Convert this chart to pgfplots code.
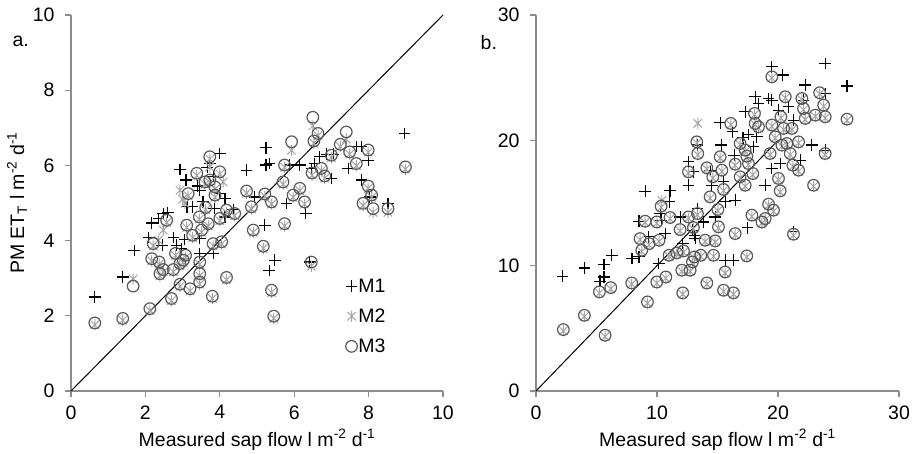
\documentclass[border=0pt]{standalone}
\usepackage{pgfplots}
\pgfplotsset{compat=1.18}
\usepackage{fontspec}
\setmainfont{Liberation Sans}
\definecolor{axgray}{HTML}{8C8C8C}
\definecolor{mtwo}{HTML}{A6A6A6}
\definecolor{mthree}{HTML}{595959}
\pgfdeclareplotmark{xstar}{%
  \pgfpathmoveto{\pgfqpoint{0pt}{\pgfplotmarksize}}%
  \pgfpathlineto{\pgfqpoint{0pt}{-\pgfplotmarksize}}%
  \pgfpathmoveto{\pgfqpoint{-0.75\pgfplotmarksize}{0.75\pgfplotmarksize}}%
  \pgfpathlineto{\pgfqpoint{0.75\pgfplotmarksize}{-0.75\pgfplotmarksize}}%
  \pgfpathmoveto{\pgfqpoint{-0.75\pgfplotmarksize}{-0.75\pgfplotmarksize}}%
  \pgfpathlineto{\pgfqpoint{0.75\pgfplotmarksize}{0.75\pgfplotmarksize}}%
  \pgfusepathqstroke}
\newcommand{\fs}{\fontsize{19.5}{21}\selectfont}
\pgfplotsset{
  panel/.style={
    scale only axis,
    height=376pt,
    axis lines*=left,
    axis line style={axgray, line width=1.8pt},
    tick style={axgray, line width=1.2pt},
    major tick length=6pt,
    tick align=outside,
    clip=false,
    /pgf/number format/assume math mode=true,
    tick label style={font=\fs, black},
    label style={font=\fs},
    xlabel={Measured sap flow l m\textsuperscript{-2} d\textsuperscript{-1}},
    xlabel style={at={(axis description cs:0.5,0)}, anchor=center, yshift=-49pt},
    xticklabel style={yshift=-5pt},
    yticklabel style={xshift=-7pt},
  },
  m1/.style={only marks, mark=+, mark size=5.8pt, black, line width=1.2pt},
  m2/.style={only marks, mark=xstar, mark size=5.6pt, mtwo, line width=1pt},
  m3/.style={only marks, mark=o, mark size=5.8pt, mthree, line width=1.2pt},
}
\begin{document}
\begin{tikzpicture}
\path[use as bounding box] (0,0) rectangle (914pt,453pt);
\begin{axis}[panel,
  at={(71pt,62pt)}, anchor=south west,
  width=372pt,
  xmin=0, xmax=10, ymin=0, ymax=10,
  xtick={0,2,...,10}, ytick={0,2,...,10},
  ylabel={PM ET\textsubscript{T} l m\textsuperscript{-2} d\textsuperscript{-1}},
  ylabel style={at={(axis description cs:-0.145,0.5)}, anchor=center},
  legend style={at={(axis description cs:0.73,0.307)}, anchor=north west, draw=none, fill=none,
    font=\fs, row sep=13pt, nodes={inner sep=1pt}},
  legend cell align=left,
  legend image code/.code={\draw[mark repeat=2,mark phase=2,#1] plot coordinates {(0pt,0pt) (6pt,0pt) (12pt,0pt)};},
]
\addplot[m1] coordinates {
(0.64,2.50) (1.39,3.03) (1.70,3.74) (2.09,4.08) (2.17,4.47) (2.35,4.59) (2.48,4.72)
(2.45,3.88) (2.75,4.08) (2.84,3.88) (2.97,3.79) (2.93,5.89) (3.09,5.61) (3.12,4.90)
(3.27,4.90) (3.06,4.03) (3.46,4.06) (3.46,5.34) (3.55,5.03) (3.46,3.66) (3.82,3.66)
(3.82,5.70) (3.73,6.05) (4.00,6.32) (4.00,5.25) (4.14,5.12) (4.14,4.63) (4.36,4.83)
(4.72,5.87) (4.94,5.16) (5.24,6.47) (5.24,6.01) (5.34,6.05) (5.21,4.41) (5.33,3.21)
(5.48,3.48) (5.79,4.99) (5.88,6.01) (6.15,6.01) (6.31,4.72) (6.46,5.92) (6.55,6.05)
(6.42,3.43) (6.69,6.23) (6.87,6.30) (7.05,6.30) (7.00,5.65) (7.45,5.92) (7.67,6.50)
(7.81,6.50) (7.81,5.61) (7.99,6.14) (8.03,5.16) (8.52,4.99) (8.97,6.85)
(3.66,5.95) (3.40,5.45) (2.60,4.75) (3.85,4.85)
};
\addlegendentry{M1}
\addplot[m2] coordinates {
(0.64,1.76) (1.39,1.88) (1.67,2.98) (2.12,2.14) (2.17,3.46) (2.37,3.37) (2.21,3.86)
(2.39,3.06) (2.48,3.17) (2.57,4.48) (2.70,2.40) (2.75,3.17) (2.81,3.60) (2.93,3.33)
(2.93,2.78) (3.02,3.42) (3.08,3.55) (3.11,4.35) (3.15,5.19) (3.20,2.66) (3.27,4.08)
(3.38,5.73) (3.45,4.57) (3.46,3.37) (3.46,3.06) (3.46,2.84) (3.51,4.22) (3.60,5.50)
(3.62,4.82) (3.69,4.39) (3.73,5.55) (3.73,6.17) (3.80,2.46) (3.82,3.86) (3.87,5.37)
(3.87,5.15) (4.00,5.77) (4.00,4.53) (4.05,3.91) (4.18,4.75) (4.18,2.96) (4.40,4.66)
(4.72,5.26) (4.85,4.84) (4.90,4.22) (5.17,3.79) (5.21,5.18) (5.39,4.97) (5.39,2.62)
(5.45,1.93) (5.70,5.50) (5.74,4.39) (5.74,5.95) (5.93,6.40) (5.97,5.15) (6.15,5.33)
(6.28,4.97) (6.46,3.32) (6.48,5.74) (6.50,7.05) (6.53,6.59) (6.64,6.79) (6.73,5.86)
(6.82,5.66) (7.00,6.21) (7.24,6.50) (7.40,6.70) (7.49,6.30) (7.67,5.99) (7.85,4.93)
(7.99,6.35) (7.99,5.39) (8.08,5.15) (8.12,4.75) (8.52,4.75) (8.99,5.90)
(2.93,5.34) (3.06,4.99) (3.73,5.96) (2.48,4.28) (2.35,4.01) (4.09,5.56) (3.0,5.10)
};
\addlegendentry{M2}
\addplot[m3] coordinates {
(0.64,1.81) (1.39,1.93) (1.67,2.79) (2.12,2.19) (2.17,3.52) (2.37,3.43) (2.21,3.92)
(2.39,3.12) (2.48,3.23) (2.57,4.54) (2.70,2.46) (2.75,3.23) (2.81,3.66) (2.93,3.39)
(2.93,2.84) (3.02,3.48) (3.08,3.61) (3.11,4.41) (3.15,5.25) (3.20,2.72) (3.27,4.14)
(3.38,5.79) (3.45,4.63) (3.46,3.43) (3.46,3.12) (3.46,2.90) (3.51,4.28) (3.60,5.56)
(3.62,4.88) (3.69,4.45) (3.73,5.61) (3.73,6.23) (3.80,2.52) (3.82,3.92) (3.87,5.43)
(3.87,5.21) (4.00,5.83) (4.00,4.59) (4.05,3.97) (4.18,4.81) (4.18,3.02) (4.40,4.72)
(4.72,5.32) (4.85,4.90) (4.90,4.28) (5.17,3.85) (5.21,5.24) (5.39,5.03) (5.39,2.68)
(5.45,1.99) (5.70,5.56) (5.74,4.45) (5.74,6.01) (5.93,6.63) (5.97,5.21) (6.15,5.39)
(6.28,5.03) (6.46,3.43) (6.48,5.80) (6.50,7.28) (6.53,6.65) (6.64,6.85) (6.73,5.92)
(6.82,5.72) (7.00,6.27) (7.24,6.56) (7.40,6.89) (7.49,6.36) (7.67,6.05) (7.85,4.99)
(7.99,6.41) (7.99,5.45) (8.08,5.21) (8.12,4.85) (8.52,4.85) (8.99,5.96)
};
\addlegendentry{M3}
\addplot[black, line width=1pt, mark=none, forget plot] coordinates {(0,0) (10,10)};
\node[font=\fs, anchor=center] at (axis description cs:-0.135,0.93) {a.};
\end{axis}
\begin{axis}[panel,
  at={(536pt,62pt)}, anchor=south west,
  width=363pt,
  xmin=0, xmax=30, ymin=0, ymax=30,
  xtick={0,10,20,30}, ytick={0,10,20,30},
]
\addplot[m1] coordinates {
(2.18,9.16) (4.00,9.82) (5.29,8.76) (5.62,10.09) (5.62,9.10) (6.26,10.83) (7.94,10.57)
(8.52,13.55) (9.02,15.94) (9.29,12.30) (8.52,10.70) (10.15,10.17) (10.26,14.16)
(10.34,13.63) (10.67,12.56) (11.08,15.97) (11.00,15.09) (11.91,13.89) (12.13,11.77)
(12.60,16.42) (12.60,18.29) (13.01,17.49) (12.93,12.83) (13.15,12.16) (13.34,19.62)
(13.34,14.56) (13.84,13.49) (14.53,16.42) (14.81,13.89) (15.22,21.40) (15.30,19.62)
(15.50,16.69) (15.63,15.09) (15.63,10.43) (16.24,20.68) (16.32,10.43) (16.46,15.22)
(16.38,18.82) (17.29,22.28) (17.48,13.02) (17.56,20.47) (18.11,23.48) (18.39,22.94)
(18.25,20.28) (18.94,16.42) (19.22,23.34) (19.49,23.21) (19.49,25.87) (19.49,17.75)
(20.18,18.15) (20.04,22.41) (20.40,25.21) (20.87,22.68) (21.28,21.61) (21.28,12.70)
(21.84,18.42) (22.25,24.41) (22.80,19.62) (23.90,26.14) (23.90,23.74) (23.90,19.22)
(25.70,24.33) (22.11,23.21) (17.98,19.48) (13.10,12.40) (17.10,20.20) (14.40,17.60)
};
\addplot[m2] coordinates {
(2.26,4.80) (4.00,5.94) (5.24,7.81) (5.71,4.35) (6.18,8.15) (7.91,8.52) (8.60,12.06)
(8.74,11.13) (9.02,13.45) (9.21,7.01) (9.35,11.66) (9.98,8.60) (9.98,13.39) (10.17,11.93)
(10.34,14.65) (10.73,9.00) (11.00,10.73) (11.08,13.74) (11.63,10.92) (11.91,12.78)
(12.05,9.54) (12.13,7.73) (12.19,11.08) (12.60,17.39) (12.60,13.79) (12.74,9.54)
(12.93,10.20) (13.01,12.94) (13.10,10.60) (13.29,19.78) (13.37,18.85) (13.34,14.06)
(13.62,10.73) (13.98,11.93) (14.12,17.71) (14.12,8.52) (14.39,15.39) (14.61,16.99)
(14.67,10.73) (14.81,11.88) (15.08,13.00) (15.03,14.38) (15.22,18.59) (15.36,17.52)
(15.50,15.98) (15.50,7.94) (15.63,9.40) (16.10,21.25) (16.32,7.73) (16.46,12.46)
(16.46,18.00) (16.87,19.65) (16.87,16.99) (17.29,19.12) (17.29,16.32) (17.42,18.64)
(17.42,10.68) (17.56,18.05) (17.84,13.93) (17.92,17.25) (18.06,22.05) (18.11,21.25)
(18.39,20.98) (18.67,13.39) (18.94,13.66) (19.22,14.81) (19.35,18.85) (19.49,24.97)
(19.49,21.12) (19.63,14.33) (19.77,20.18) (20.04,16.86) (20.18,15.87) (20.24,21.78)
(20.32,19.52) (20.46,20.85) (20.60,23.38) (20.73,19.65) (21.01,18.85) (21.15,20.85)
(21.23,17.92) (21.28,12.41) (21.70,19.78) (21.70,17.52) (21.97,23.24) (22.11,22.44)
(22.25,21.65) (22.94,16.32) (23.08,21.91) (23.44,23.70) (23.77,22.71) (23.90,21.78)
(23.90,18.85) (25.70,21.59) (13.37,21.35) (10.40,15.20)
};
\addplot[m3] coordinates {
(2.26,4.90) (4.00,6.04) (5.24,7.91) (5.71,4.45) (6.18,8.25) (7.91,8.62) (8.60,12.16)
(8.74,11.23) (9.02,13.55) (9.21,7.11) (9.35,11.76) (9.98,8.70) (9.98,13.49) (10.17,12.03)
(10.34,14.75) (10.73,9.10) (11.00,10.83) (11.08,13.84) (11.63,11.02) (11.91,12.88)
(12.05,9.64) (12.13,7.83) (12.19,11.18) (12.60,17.49) (12.60,13.89) (12.74,9.64)
(12.93,10.30) (13.01,13.04) (13.10,10.70) (13.29,19.88) (13.37,18.95) (13.34,14.16)
(13.62,10.83) (13.98,12.03) (14.12,17.81) (14.12,8.62) (14.39,15.49) (14.61,17.09)
(14.67,10.83) (14.81,11.98) (15.08,13.10) (15.03,14.48) (15.22,18.69) (15.36,17.62)
(15.50,16.08) (15.50,8.04) (15.63,9.50) (16.10,21.35) (16.32,7.83) (16.46,12.56)
(16.46,18.10) (16.87,19.75) (16.87,17.09) (17.29,19.22) (17.29,16.42) (17.42,18.74)
(17.42,10.78) (17.56,18.15) (17.84,14.03) (17.92,17.35) (18.06,22.15) (18.11,21.35)
(18.39,21.08) (18.67,13.49) (18.94,13.76) (19.22,14.91) (19.35,18.95) (19.49,25.07)
(19.49,21.22) (19.63,14.43) (19.77,20.28) (20.04,16.96) (20.18,15.97) (20.24,21.88)
(20.32,19.62) (20.46,20.95) (20.60,23.48) (20.73,19.75) (21.01,18.95) (21.15,20.95)
(21.23,18.02) (21.28,12.51) (21.70,19.88) (21.70,17.62) (21.97,23.34) (22.11,22.54)
(22.25,21.75) (22.94,16.42) (23.08,22.01) (23.44,23.80) (23.77,22.81) (23.90,21.88)
(23.90,18.95) (25.70,21.69)
};
\addplot[black, line width=1pt, mark=none] coordinates {(0,0) (20,20)};
\node[font=\fs, anchor=center] at (axis description cs:-0.13,0.928) {b.};
\end{axis}
\end{tikzpicture}
\end{document}
